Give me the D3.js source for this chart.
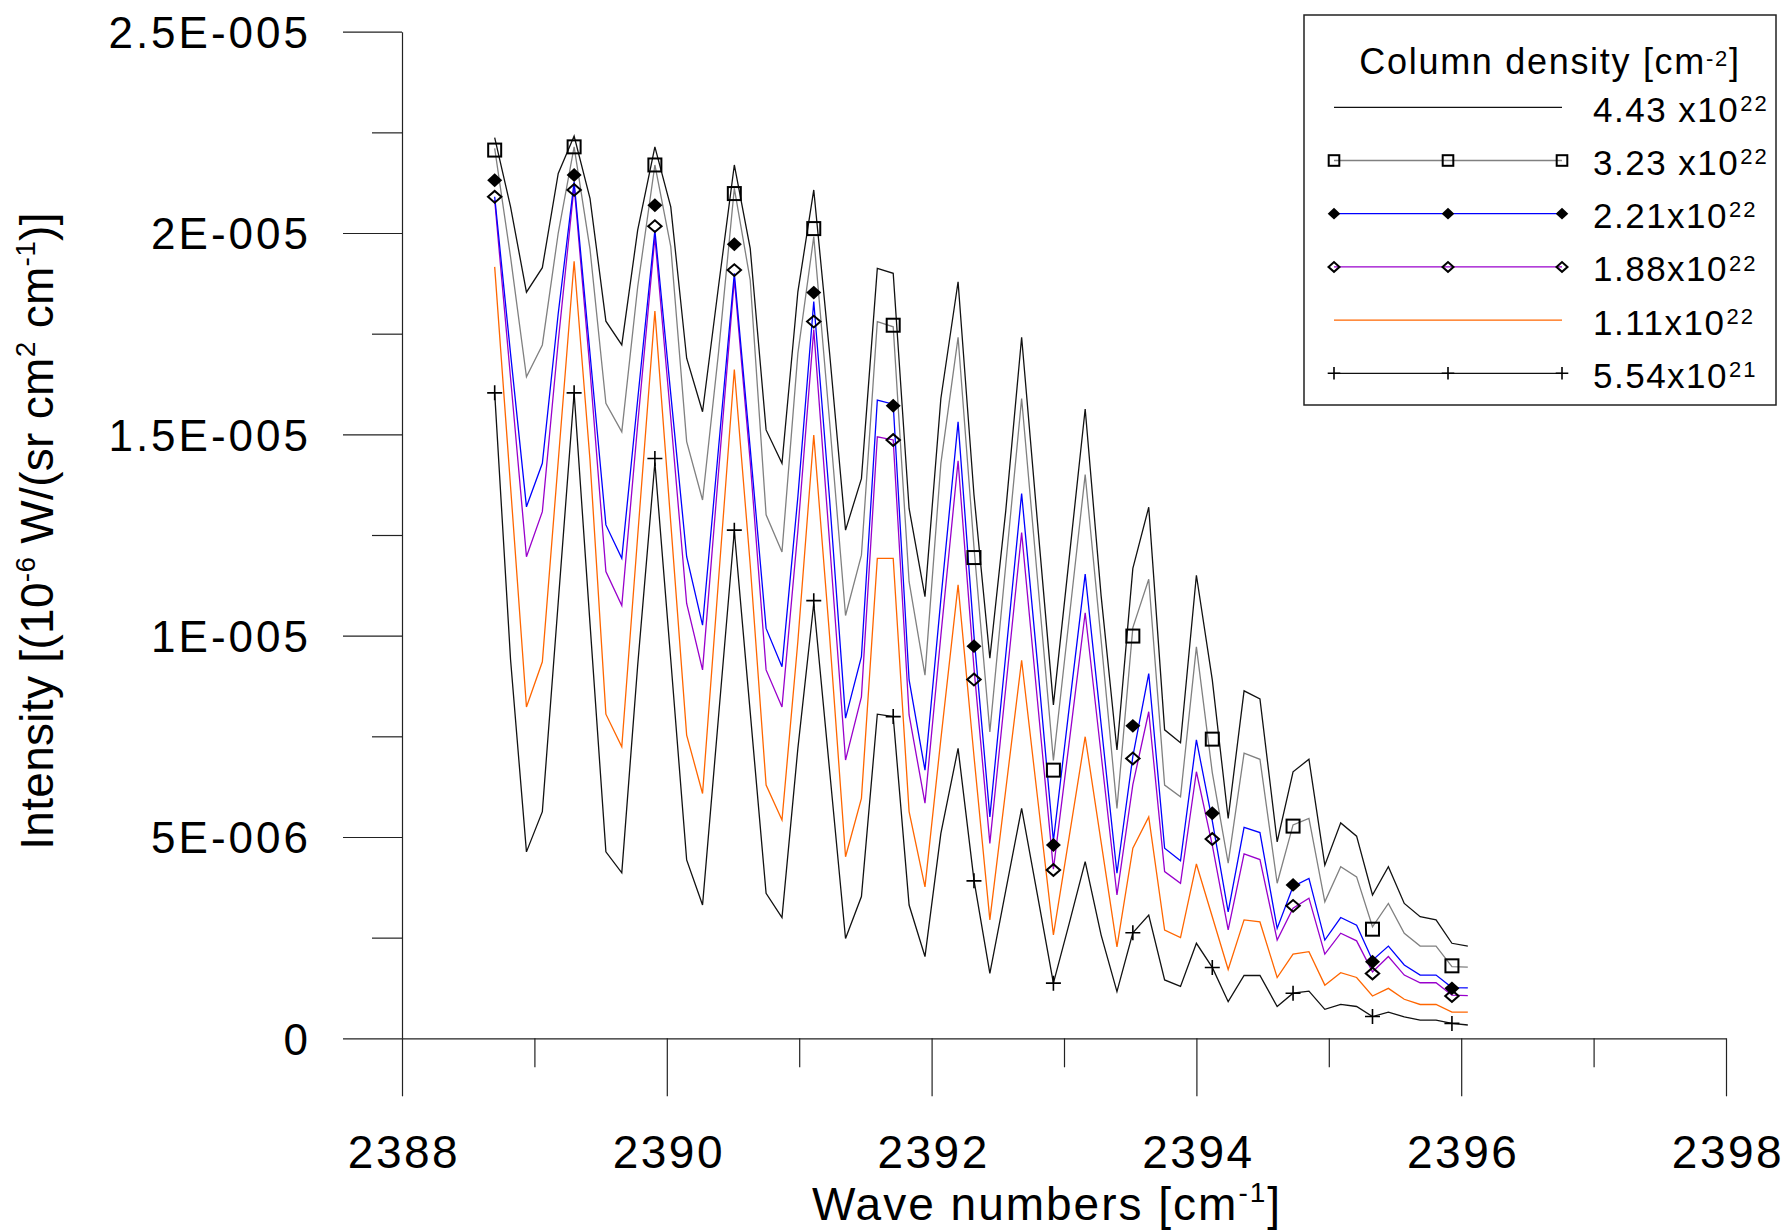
<!DOCTYPE html>
<html lang="en">
<head>
<meta charset="UTF-8">
<title>Intensity vs wave number</title>
<script src="https://cdn.jsdelivr.net/npm/d3@7"></script>
<style>
  body { margin: 0; background: #fff; }
  svg { display: block; font-family: "Liberation Sans", Arial, sans-serif; }
</style>
</head>
<body>
<div id="chart"></div>
<script>
// wave numbers of the computed points [cm-1]
const waveNumbers = [
  2388.70, 2388.82, 2388.94, 2389.06, 2389.18, 2389.30, 2389.42, 2389.54, 2389.66, 2389.78,
  2389.91, 2390.03, 2390.15, 2390.27, 2390.39, 2390.51, 2390.63, 2390.75, 2390.87, 2390.99,
  2391.11, 2391.23, 2391.35, 2391.47, 2391.59, 2391.71, 2391.83, 2391.95, 2392.07, 2392.20,
  2392.32, 2392.44, 2392.56, 2392.68, 2392.80, 2392.92, 2393.04, 2393.16, 2393.28, 2393.40,
  2393.52, 2393.64, 2393.76, 2393.88, 2394.00, 2394.12, 2394.24, 2394.36, 2394.48, 2394.61,
  2394.73, 2394.85, 2394.97, 2395.09, 2395.21, 2395.33, 2395.45, 2395.57, 2395.69, 2395.81,
  2395.93, 2396.05];
// wave numbers where the symbols sit
const markerWaveNumbers = [2388.70, 2389.30, 2389.91, 2390.51, 2391.11, 2391.71, 2392.32,
  2392.92, 2393.52, 2394.12, 2394.73, 2395.33, 2395.93];

// intensities, in units of 1e-6 W/(sr cm2 cm-1)
const i443 = [22.37, 20.65, 18.53, 19.14, 21.48, 22.41, 20.86, 17.81, 17.22, 20.07,
  22.14, 20.65, 16.89, 15.56, 18.66, 21.69, 19.62, 15.11, 14.28, 18.54,
  21.07, 17.0, 12.62, 13.9, 19.12, 19.0, 13.16, 10.97, 15.89, 18.79,
  13.5, 9.44, 13.1, 17.41, 12.8, 8.28, 11.95, 15.63, 11.0, 7.16,
  11.67, 13.19, 7.66, 7.34, 11.5, 8.9, 5.46, 8.63, 8.43, 4.88,
  6.62, 6.93, 4.30, 5.35, 5.02, 3.56, 4.26, 3.35, 3.02, 2.94,
  2.36, 2.29];
const i323 = [22.1, 19.4, 16.43, 17.22, 20.0, 22.14, 19.6, 15.77, 15.06, 18.66,
  21.69, 19.66, 14.82, 13.37, 17.01, 21.11, 18.83, 13.0, 12.08, 17.01,
  19.91, 15.3, 10.5, 12.0, 17.8, 17.67, 11.34, 9.02, 14.28, 17.41,
  12.2, 7.61, 11.75, 15.89, 11.4, 6.9, 10.45, 14.0, 9.9, 5.71,
  10.2, 11.4, 6.29, 6.0, 9.72, 6.6, 4.35, 7.08, 6.93, 3.85,
  5.30, 5.46, 3.39, 4.26, 4.01, 2.77, 3.35, 2.61, 2.29, 2.29,
  1.78, 1.77];
const i221 = [20.9, 17.0, 13.2, 14.28, 18.0, 21.27, 17.0, 12.75, 11.92, 15.86,
  20.07, 16.0, 11.96, 10.26, 14.63, 19.0, 14.65, 10.18, 9.23, 13.45,
  18.3, 13.37, 7.95, 9.48, 15.85, 15.75, 8.9, 6.66, 10.9, 15.31,
  10.0, 5.50, 9.52, 13.53, 9.3, 4.9, 8.23, 11.53, 7.81, 4.1,
  7.0, 9.06, 4.72, 4.41, 7.41, 5.4, 3.14, 5.24, 5.11, 2.73,
  3.77, 3.97, 2.44, 3.0, 2.81, 1.94, 2.29, 1.82, 1.57, 1.57,
  1.26, 1.25];
const i188 = [20.82, 16.4, 11.96, 13.08, 17.3, 21.17, 16.6, 11.59, 10.75, 15.24,
  19.9, 15.4, 10.8, 9.15, 14.03, 18.85, 14.32, 9.15, 8.23, 12.61,
  17.6, 12.29, 6.91, 8.48, 14.94, 14.86, 8.03, 5.84, 10.0, 14.34,
  9.2, 4.84, 8.7, 12.56, 8.37, 4.2, 7.37, 10.57, 7.06, 3.56,
  6.3, 8.11, 4.14, 3.85, 6.62, 4.8, 2.69, 4.58, 4.44, 2.44,
  3.23, 3.48, 2.09, 2.61, 2.42, 1.65, 2.03, 1.57, 1.38, 1.38,
  1.07, 1.06];
const i111 = [19.16, 13.7, 8.23, 9.35, 14.33, 19.3, 14.36, 8.05, 7.24, 12.47,
  18.06, 12.8, 7.53, 6.08, 11.35, 16.61, 11.76, 6.29, 5.42, 9.86,
  14.98, 9.97, 4.51, 5.96, 11.92, 11.92, 5.63, 3.76, 7.43, 11.26,
  7.01, 2.94, 6.17, 9.39, 5.98, 2.57, 5.02, 7.49, 4.88, 2.27,
  4.72, 5.5, 2.69, 2.5, 4.33, 3.02, 1.71, 2.94, 2.89, 1.51,
  2.09, 2.15, 1.32, 1.63, 1.51, 1.05, 1.24, 0.97, 0.84, 0.84,
  0.65, 0.65];
const i554 = [16.03, 9.4, 4.63, 5.63, 10.83, 16.03, 10.3, 4.63, 4.11, 9.26,
  14.3, 9.4, 4.43, 3.31, 7.96, 12.6, 8.1, 3.6, 3.0, 7.2,
  10.8, 6.64, 2.48, 3.52, 8.05, 7.99, 3.31, 2.03, 5.09, 7.2,
  3.93, 1.61, 3.67, 5.71, 3.55, 1.37, 2.86, 4.39, 2.57, 1.16,
  2.62, 3.06, 1.45, 1.29, 2.36, 1.76, 0.91, 1.56, 1.56, 0.79,
  1.12, 1.17, 0.72, 0.84, 0.79, 0.54, 0.65, 0.53, 0.45, 0.45,
  0.37, 0.33];

// symbol values (same units)
const m323 = [22.06, 22.14, 21.69, 20.98, 20.11, 17.71, 11.94, 6.66, 9.99, 7.43, 5.27, 2.71, 1.80];
const m221 = [21.31, 21.44, 20.69, 19.72, 18.52, 15.71, 9.74, 4.80, 7.76, 5.59, 3.81, 1.90, 1.24];
const m188 = [20.9, 21.07, 20.17, 19.08, 17.8, 14.86, 8.91, 4.18, 6.95, 4.95, 3.29, 1.61, 1.05];
const m554 = [16.03, 16.03, 14.4, 12.62, 10.87, 7.99, 3.91, 1.37, 2.62, 1.76, 1.12, 0.54, 0.37];

const yTickValues = [0, 5, 10, 15, 20, 25];
const yTickLabels = ["0", "5E-006", "1E-005", "1.5E-005", "2E-005", "2.5E-005"];
const yMinorTicks = [2.5, 7.5, 12.5, 17.5, 22.5];
const xTickValues = [2388, 2390, 2392, 2394, 2396, 2398];
const xMinorTicks = [2389, 2391, 2393, 2395, 2397];

const legendLabels = [["4.43 x10", "22"], ["3.23 x10", "22"], ["2.21x10", "22"],
  ["1.88x10", "22"], ["1.11x10", "22"], ["5.54x10", "21"]];

const series = [
  { vals: i111, color: "#ff6600", marker: null, mk: null },
  { vals: i188, color: "#9900cc", marker: "odiamond", mk: m188 },
  { vals: i221, color: "#0000ff", marker: "fdiamond", mk: m221 },
  { vals: i323, color: "#808080", marker: "square", mk: m323 },
  { vals: i554, color: "#111", marker: "plus", mk: m554 },
  { vals: i443, color: "#111", marker: null, mk: null }
];
// legend order (top to bottom)
const legendOrder = [5, 3, 2, 1, 0, 4];

const width = 1782, height = 1231;
const svg = d3.select("#chart").append("svg")
  .attr("width", width)
  .attr("height", height);

const x = d3.scaleLinear().domain([2388, 2398]).range([402, 1726]);
const y = d3.scaleLinear().domain([0, 25]).range([1038.3, 31.7]);

// ---- axes ----
function styleAxis(g) {
  g.attr("font-family", null).attr("font-size", null);
  g.selectAll("path.domain").attr("stroke", "#222").attr("stroke-width", 1.2);
  g.selectAll(".tick line").attr("stroke", "#222").attr("stroke-width", 1.2);
}

svg.append("g")
  .attr("transform", "translate(402,0)")
  .call(d3.axisLeft(y).tickValues(yMinorTicks).tickSize(30).tickSizeOuter(0).tickFormat(""))
  .call(styleAxis)
  .call(g => g.select(".domain").remove());

const yAxis = svg.append("g")
  .attr("transform", "translate(402,0)")
  .call(d3.axisLeft(y).tickValues(yTickValues).tickSize(59).tickSizeOuter(0)
    .tickFormat((d, i) => yTickLabels[i]))
  .call(styleAxis);
yAxis.selectAll(".tick text")
  .attr("x", -91)
  .attr("dy", "0.36em")
  .style("font-size", "44px")
  .style("letter-spacing", "3px")
  .attr("fill", "#000");

svg.append("g")
  .attr("transform", "translate(0,1038.3)")
  .call(d3.axisBottom(x).tickValues(xMinorTicks).tickSize(29).tickSizeOuter(0).tickFormat(""))
  .call(styleAxis)
  .call(g => g.select(".domain").remove());

const xAxis = svg.append("g")
  .attr("transform", "translate(0,1038.3)")
  .call(d3.axisBottom(x).tickValues(xTickValues).tickSize(58).tickSizeOuter(0)
    .tickFormat(d3.format("d")))
  .call(styleAxis);
xAxis.selectAll(".tick text")
  .attr("y", 97)
  .attr("dx", 1.5)
  .attr("dy", "0.71em")
  .style("font-size", "46px")
  .style("letter-spacing", "2.5px")
  .attr("fill", "#000");

// text made of plain and superscript pieces; the baseline is restored on the piece after a superscript
function addSup(t, parts, supSize, shift) {
  let back = 0;
  parts.forEach(p => {
    const ts = t.append("tspan").text(p.text);
    if (p.sup) {
      ts.attr("dy", back - shift).style("font-size", supSize + "px");
      back = shift;
    } else {
      if (back) ts.attr("dy", back);
      back = 0;
    }
  });
}

// ---- axis titles ----
const xTitle = svg.append("text")
  .attr("x", 1047)
  .attr("y", 1220)
  .attr("text-anchor", "middle")
  .style("font-size", "46px")
  .style("letter-spacing", "2px");
addSup(xTitle, [{ text: "Wave numbers [cm" }, { text: "-1", sup: true }, { text: "]" }], 28, 18);

const yTitle = svg.append("text")
  .attr("transform", "translate(53,531) rotate(-90)")
  .attr("text-anchor", "middle")
  .style("font-size", "46px")
  .style("letter-spacing", "0.3px");
addSup(yTitle, [
  { text: "Intensity [(10" }, { text: "-6", sup: true },
  { text: " W/(sr cm" }, { text: "2", sup: true },
  { text: " cm" }, { text: "-1", sup: true }, { text: ")]" }
], 28, 18);

// ---- lines ----
const line = d3.line()
  .x((d, i) => x(waveNumbers[i]))
  .y(d => y(d));

const plot = svg.append("g");
series.forEach(s => {
  plot.append("path")
    .datum(s.vals)
    .attr("fill", "none")
    .attr("stroke", s.color)
    .attr("stroke-width", 1.3)
    .attr("stroke-linejoin", "miter")
    .attr("d", line);
});

// ---- symbols ----
function drawMarker(g, type, cx, cy, r) {
  if (type === "square") {
    g.append("rect")
      .attr("x", cx - r + 1).attr("y", cy - r + 1)
      .attr("width", 2 * r - 2).attr("height", 2 * r - 2)
      .attr("fill", "none").attr("stroke", "#000").attr("stroke-width", 2);
  } else if (type === "fdiamond") {
    g.append("path")
      .attr("d", `M${cx - r},${cy}L${cx},${cy - r * 0.93}L${cx + r},${cy}L${cx},${cy + r * 0.93}Z`)
      .attr("fill", "#000");
  } else if (type === "odiamond") {
    const a = r - 0.8, b = r * 0.78;
    g.append("path")
      .attr("d", `M${cx - a},${cy}L${cx},${cy - b}L${cx + a},${cy}L${cx},${cy + b}Z`)
      .attr("fill", "none").attr("stroke", "#000").attr("stroke-width", 2);
  } else if (type === "plus") {
    g.append("path")
      .attr("d", `M${cx - r},${cy}H${cx + r}M${cx},${cy - r}V${cy + r}`)
      .attr("stroke", "#000").attr("stroke-width", 1.6);
  }
}

const symbols = svg.append("g");
series.forEach(s => {
  if (!s.marker) return;
  s.mk.forEach((v, k) => drawMarker(symbols, s.marker, x(markerWaveNumbers[k]), y(v), 7.5));
});

// ---- legend ----
const legend = svg.append("g");
legend.append("rect")
  .attr("x", 1304).attr("y", 15)
  .attr("width", 472).attr("height", 390)
  .attr("fill", "#fff").attr("stroke", "#222").attr("stroke-width", 1.5);

const lt = legend.append("text")
  .attr("x", 1550).attr("y", 74)
  .attr("text-anchor", "middle")
  .style("font-size", "36px")
  .style("letter-spacing", "1.7px");
addSup(lt, [{ text: "Column density [cm" }, { text: "-2", sup: true }, { text: "]" }], 22, 8);

legendOrder.forEach((si, k) => {
  const s = series[si];
  const ly = 107.3 + k * 53.2;
  legend.append("line")
    .attr("x1", 1334).attr("x2", 1562)
    .attr("y1", ly).attr("y2", ly)
    .attr("stroke", s.color).attr("stroke-width", 1.3);
  if (s.marker) {
    [1334, 1448, 1562].forEach(mx => drawMarker(legend, s.marker, mx, ly, 6.3));
  }
  const t = legend.append("text")
    .attr("x", 1593).attr("y", ly + 14.4)
    .style("font-size", "35px")
    .style("letter-spacing", "1.5px");
  t.append("tspan").text(legendLabels[k][0]);
  t.append("tspan").attr("dy", -10.7).attr("dx", 1)
    .style("font-size", "22px").style("letter-spacing", "2px")
    .text(legendLabels[k][1]);
});
</script>
</body>
</html>
